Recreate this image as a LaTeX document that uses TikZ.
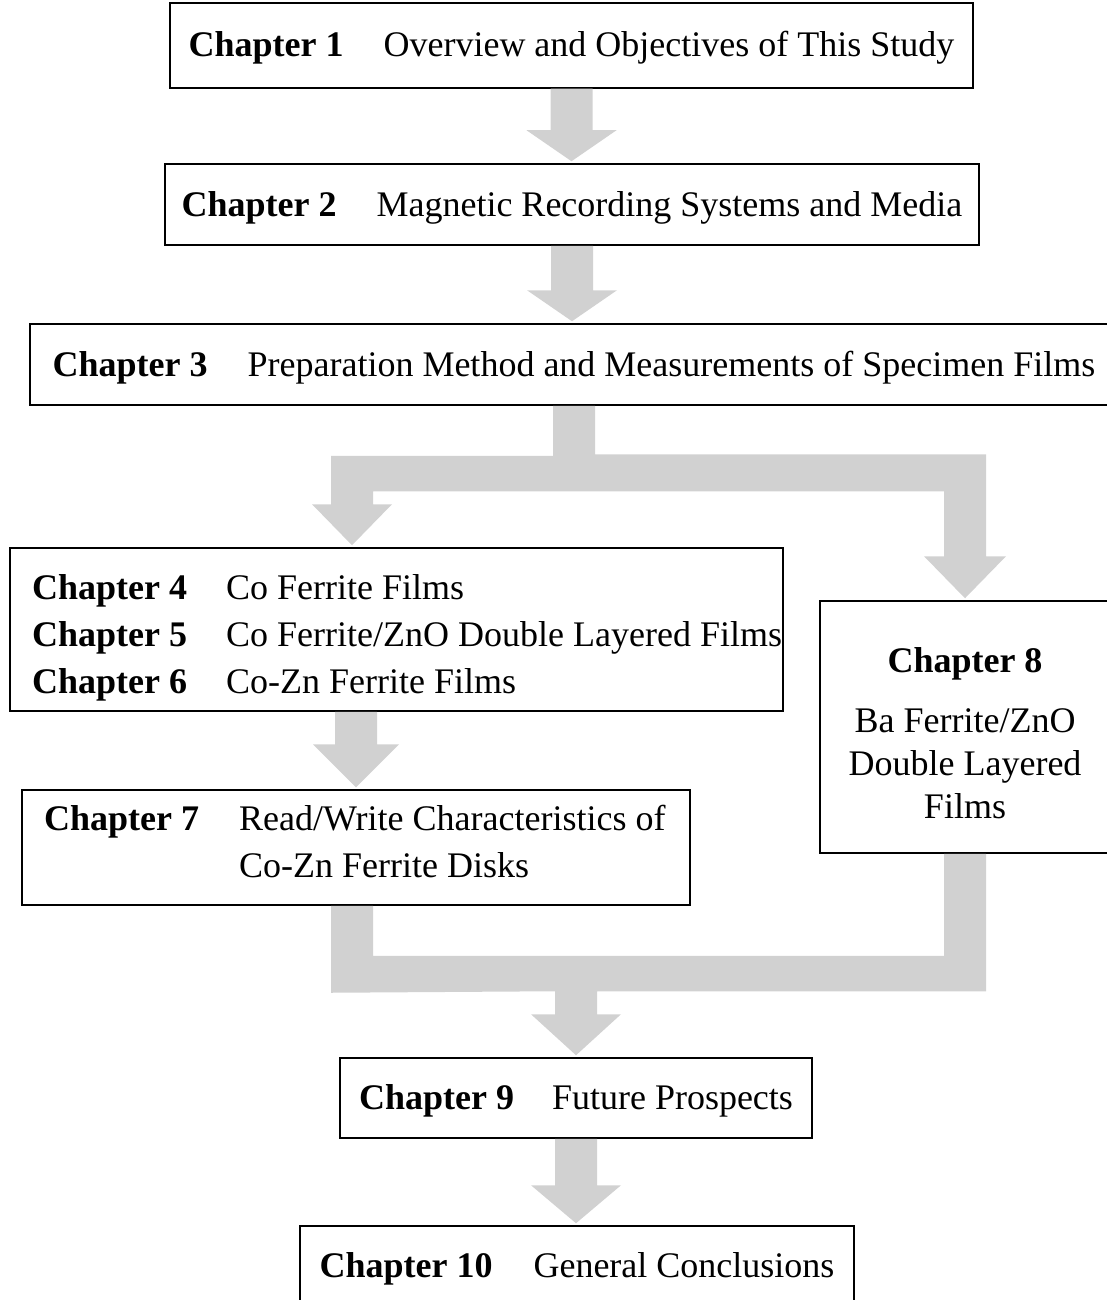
\documentclass[tikz,border=0pt]{standalone}
\usepackage{fontspec}
\setmainfont{Liberation Serif}
\usetikzlibrary{calc}
\tikzset{
  box/.style={draw=black, line width=1.5pt, inner sep=0pt, text height=31pt, text depth=8pt,
    font=\fontsize{36}{47}\selectfont},
  txt/.style={inner sep=0pt, font=\fontsize{36}{47}\selectfont},
  arrowfill/.style={fill=black!18},
}
\newcommand\chap[1]{\textbf{Chapter #1}}
% #1 start, #2 tip, #3 shaft half width, #4 head half width, #5 head length
\newcommand\blockdown[5]{%
  \fill[arrowfill] let \p1=(#1), \p2=(#2) in
    (\x1-#3pt,\y1) -- (\x1+#3pt,\y1) -- (\x1+#3pt,\y2+#5pt) -- (\x1+#4pt,\y2+#5pt)
    -- (\x1,\y2+2pt) -- (\x1-#4pt,\y2+#5pt) -- (\x1-#3pt,\y2+#5pt) -- cycle;}
\begin{document}
\begin{tikzpicture}[x=1pt,y=-1pt]
\useasboundingbox (0,0) rectangle (1106,1300);

% boxes
\node[box, minimum width=803pt, minimum height=85pt] (c1) at (571.5,45.5)
  {\chap{1}\hspace{40pt}Overview and Objectives of This Study};
\node[box, minimum width=814pt, minimum height=81pt] (c2) at (572,204.5)
  {\chap{2}\hspace{40pt}Magnetic Recording Systems and Media};
\node[box, minimum width=1088pt, minimum height=81pt] (c3) at (574,364.5)
  {\chap{3}\hspace{40pt}Preparation Method and Measurements of Specimen Films};
\node[box, minimum width=773pt, minimum height=163pt] (c4) at (396.5,629.5) {};
\node[txt, anchor=west] (t4) at (32,637)
  {\begin{tabular}{@{}l@{\hspace{39pt}}l@{}}
   \chap{4} & Co Ferrite Films\\
   \chap{5} & Co Ferrite/ZnO Double Layered Films\\
   \chap{6} & Co-Zn Ferrite Films
   \end{tabular}};
\node[box, minimum width=668pt, minimum height=115pt] (c7) at (356,847.5) {};
\node[txt, anchor=west] (t7) at (44,844.5)
  {\begin{tabular}{@{}l@{\hspace{40pt}}l@{}}
   \chap{7} & Read/Write Characteristics of\\
            & Co-Zn Ferrite Disks
   \end{tabular}};
\node[box, minimum width=290pt, minimum height=252pt] (c8) at (965,727) {};
\node[txt, align=center] (t8) at (965,733.5)
  {\chap{8}\\[13pt] Ba Ferrite/ZnO\\[-4pt] Double Layered\\[-4pt] Films};
\node[box, minimum width=472pt, minimum height=80pt] (c9) at (576,1098)
  {\chap{9}\hspace{38pt}Future Prospects};
\node[box, minimum width=554pt, minimum height=79pt] (c10) at (577,1265.5)
  {\chap{10}\hspace{41pt}General Conclusions};

\coordinate (L) at (352,0);

% straight block arrows
\blockdown{c1.south}{c2.north}{21}{45}{33}
\blockdown{c2.south}{c3.north}{21}{45}{33}
\blockdown{c4.south -| c7.north}{c7.north}{21}{43}{45}
\blockdown{c9.south}{c10.north}{21}{45}{40}

% split: chapter 3 -> chapters 4-6 and chapter 8
\fill[arrowfill]
  ($(c3.south)+(-21,0)$) -- ($(c3.south)+(21,0)$) |- ($(c8.north)+(21,-146)$)
  -- ($(c8.north)+(21,-44)$) -- ($(c8.north)+(41,-44)$) -- ($(c8.north)+(0,-2)$)
  -- ($(c8.north)+(-41,-44)$) -- ($(c8.north)+(-21,-44)$) |- ($(c4.north -| L)+(21,-56)$)
  -- ($(c4.north -| L)+(21,-43)$) -- ($(c4.north -| L)+(40,-43)$) -- ($(c4.north -| L)+(0,-2)$)
  -- ($(c4.north -| L)+(-40,-43)$) -- ($(c4.north -| L)+(-21,-43)$) |- ($(c3.south)+(-21,50)$)
  -- cycle;

% merge: chapter 7 and chapter 8 -> chapter 9
\fill[arrowfill]
  ($(c7.south -| L)+(-21,0)$) -- ($(c7.south -| L)+(-21,87)$) -- ($(c9.north)+(-21,-66)$)
  -- ($(c9.north)+(-21,-43)$) -- ($(c9.north)+(-45,-43)$) -- ($(c9.north)+(0,-2)$)
  -- ($(c9.north)+(45,-43)$) -- ($(c9.north)+(21,-43)$) -- ($(c9.north)+(21,-66)$)
  -| ($(c8.south)+(21,0)$) -- ($(c8.south)+(-21,0)$) |- ($(c7.south -| L)+(21,50)$)
  -- ($(c7.south -| L)+(21,0)$) -- cycle;
\end{tikzpicture}
\end{document}
